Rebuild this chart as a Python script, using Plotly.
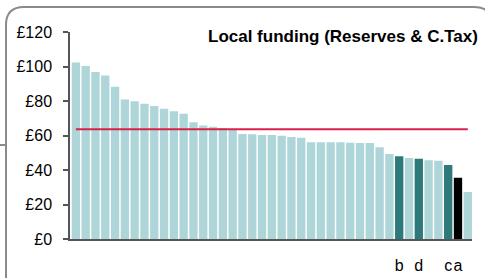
import plotly.graph_objects as go

# ---- data ----
values = [102.5, 100.5, 97, 95, 88.5, 81, 80, 78.6, 77.3, 75.7, 74.2, 72.8, 67.8, 65.9,
          65.3, 64.5, 64, 61, 60.9, 60.5, 60.5, 60.1, 59.3, 58.9, 56.2, 56.2, 56.2, 56.2,
          56.0, 55.8, 55.8, 53.3, 49.4, 48.1, 47.1, 46.7, 45.8, 45.6, 43.1, 35.7, 27.4]
highlight = {33: "b", 35: "d", 38: "c", 39: "a"}
kinds = {33: "dark", 35: "dark", 38: "dark", 39: "black"}
average = 63.8
y_ticks = [0, 20, 40, 60, 80, 100, 120]
y_tick_labels = ["£0", "£20", "£40", "£60", "£80", "£100", "£120"]
title_text = "Local funding (Reserves & C.Tax)"

LIGHT = "#aed5d8"
DARK = "#2e7a7a"
BLACK = "#000000"
RED = "#d9214b"
BORDER = "#8a8a8a"

x = list(range(len(values)))
colors = []
for i in x:
    k = kinds.get(i)
    colors.append(DARK if k == "dark" else BLACK if k == "black" else LIGHT)

W, H = 485, 278
def px(xp): return xp / W
def py(yp): return (H - yp) / H

fig = go.Figure()
fig.add_trace(go.Bar(x=x, y=values, marker=dict(color=colors, line=dict(width=0)),
                     hoverinfo="skip"))
fig.add_trace(go.Scatter(x=x, y=[average] * len(x), mode="lines",
                         line=dict(color=RED, width=2), hoverinfo="skip"))

tickvals = sorted(highlight)

r = 18
x0, y0, x1, y1 = 6, 7, 492, 284
path = (f"M {px(x0)},{py(y1)} L {px(x0)},{py(y0 + r)} "
        f"Q {px(x0)},{py(y0)} {px(x0 + r)},{py(y0)} "
        f"L {px(x1 - r)},{py(y0)} Q {px(x1)},{py(y0)} {px(x1)},{py(y0 + r)} "
        f"L {px(x1)},{py(y1)}")

fig.update_layout(
    width=W, height=H, margin=dict(l=0, r=0, t=0, b=0),
    paper_bgcolor="white", plot_bgcolor="white", showlegend=False,
    bargap=0.15,
    font=dict(family="Liberation Sans, Arial, sans-serif", color="#000", size=16),
    xaxis=dict(domain=[px(70), px(472)], range=[-0.6, len(values) - 0.57],
               showgrid=False, zeroline=False, showline=True, linecolor="#555",
               linewidth=1.5, ticks="", tickvals=tickvals, tickangle=0,
               ticktext=[highlight[i] for i in tickvals], ticklabelstandoff=11,
               tickfont=dict(size=16), automargin=False),
    yaxis=dict(domain=[py(239.3), py(32.3)], range=[0, 120],
               tickvals=y_ticks, ticktext=y_tick_labels, showgrid=False,
               zeroline=False, showline=True, linecolor="#555", linewidth=1.5,
               ticks="outside", ticklen=5, tickcolor="#555", tickwidth=1.5,
               ticklabelstandoff=8, tickfont=dict(size=16), automargin=False),
    shapes=[
        dict(type="path", xref="paper", yref="paper", path=path,
             line=dict(color=BORDER, width=2)),
        dict(type="line", xref="paper", yref="paper", x0=px(0), x1=px(6),
             y0=py(145), y1=py(145), line=dict(color=BORDER, width=2)),
    ],
    annotations=[
        dict(text="<b>" + title_text + "</b>", xref="paper", yref="paper",
             x=px(480), y=py(37), xanchor="right", yanchor="middle",
             showarrow=False, font=dict(size=17, color="#000")),
    ],
)

fig.write_html("out.html", config={"displayModeBar": False},
               post_script="document.body.style.margin='0';")
